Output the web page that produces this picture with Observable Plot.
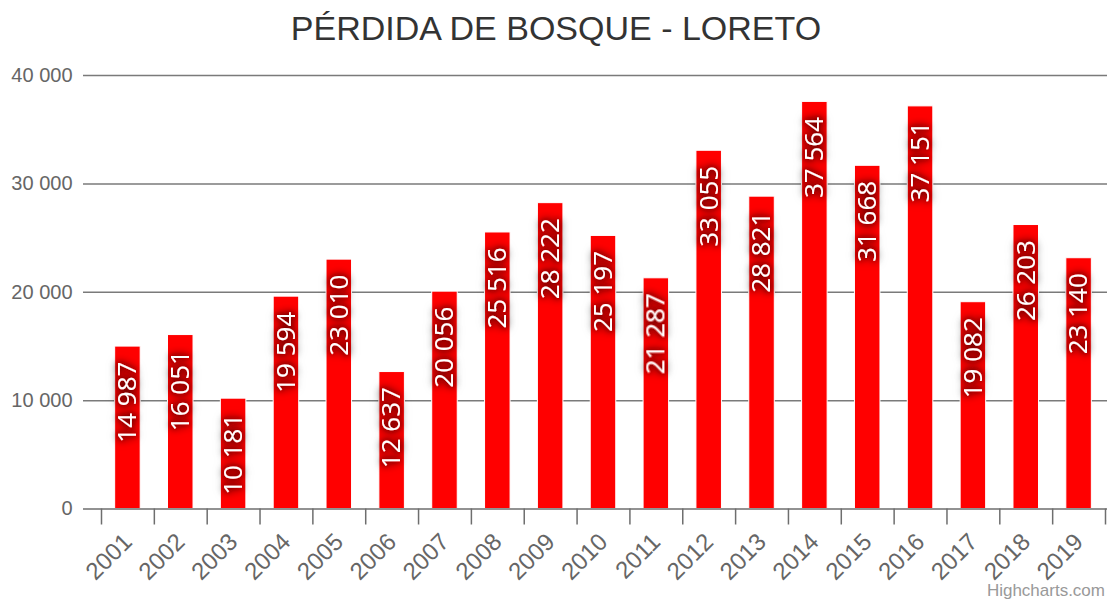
<!DOCTYPE html>
<html>
<head>
<meta charset="utf-8">
<script src="https://cdn.jsdelivr.net/npm/d3@7"></script>
<script src="https://cdn.jsdelivr.net/npm/@observablehq/plot@0.6"></script>
<style>
  html, body { margin: 0; padding: 0; background: #fff; }
  #wrap { position: relative; width: 1112px; height: 603px; overflow: hidden; }
  #title { height: 60px; line-height: 56px; text-align: center; font-family: "Liberation Sans", Arial, sans-serif; font-size: 34px; color: #333; }
  #credit { position: absolute; right: 7px; bottom: 2px; font-family: "Liberation Sans", Arial, sans-serif; font-size: 17px; color: #999; }
  #chart svg { display: block; }
</style>
</head>
<body>
<div id="wrap">
  <div id="title">PÉRDIDA DE BOSQUE - LORETO</div>
  <div id="chart"></div>
  <div id="credit">Highcharts.com</div>
</div>
<script>
const years = ["2001","2002","2003","2004","2005","2006","2007","2008","2009","2010","2011","2012","2013","2014","2015","2016","2017","2018","2019"];
const values = [14987, 16051, 10181, 19594, 23010, 12637, 20056, 25516, 28222, 25197, 21287, 33055, 28821, 37564, 31668, 37151, 19082, 26203, 23140];
const yTicks = [0, 10000, 20000, 30000, 40000];

const data = years.map((year, i) => ({year, value: values[i]}));
const fmt = d3.formatLocale({thousands: " ", grouping: [3], decimal: ","}).format(",");

const xRange = [101, 1105];
const step = (xRange[1] - xRange[0]) / years.length;

const plot = Plot.plot({
  width: 1112,
  height: 543,
  marginTop: 15,
  marginBottom: 94.5,
  marginLeft: 83,
  marginRight: 5,
  style: {fontFamily: "'Liberation Sans', Arial, sans-serif", fontSize: "20px", overflow: "visible", background: "white"},
  x: {domain: years, range: xRange, paddingInner: 0.517, paddingOuter: 0.2585, round: false, axis: null},
  y: {domain: [0, 40000], axis: null},
  marks: [
    Plot.ruleY(yTicks.filter(d => d > 0), {stroke: "#7a7a7a", strokeWidth: 1.5}),
    Plot.axisY({ticks: yTicks, tickSize: 0, tickPadding: 11, tickFormat: fmt, fontSize: 20, fill: "#666", label: null}),
    Plot.barY(data, {x: "year", y: "value", fill: "#ff0000", stroke: "white", strokeWidth: 1}),
    Plot.ruleY([0], {stroke: "#6e6e6e", strokeWidth: 1.5}),
    Plot.axisX({tickSize: 16, tickFormat: () => "", dx: -step / 2, stroke: "#6e6e6e", strokeWidth: 1.5, label: null}),
    Plot.axisX({ticks: [years[years.length - 1]], tickSize: 16, tickFormat: () => "", dx: step / 2, stroke: "#6e6e6e", strokeWidth: 1.5, label: null}),
    Plot.text(years, {x: d => d, frameAnchor: "bottom", rotate: -45, textAnchor: "end", lineAnchor: "middle", dx: 0, dy: 29, fontSize: 24, fill: "#666"}),
    Plot.text(data, {x: "year", y: "value", text: d => fmt(d.value), rotate: -90, textAnchor: "end", lineAnchor: "middle", dy: 15, fill: "white", fontSize: 26, fontFamily: "'Open Sans', sans-serif"})
  ]
});

// text shadow filter for the bar labels
const svg = d3.select(plot.tagName === "svg" ? plot : plot.querySelector("svg"));
const defs = svg.insert("defs", ":first-child");
const f = defs.append("filter").attr("id", "lblshadow").attr("x", "-50%").attr("y", "-50%").attr("width", "200%").attr("height", "200%");
f.append("feDropShadow").attr("dx", 0).attr("dy", 0).attr("stdDeviation", 5).attr("flood-color", "#000").attr("flood-opacity", 0.8);
f.append("feDropShadow").attr("dx", 0).attr("dy", 0).attr("stdDeviation", 2.5).attr("flood-color", "#300").attr("flood-opacity", 0.7);
svg.selectAll("g[aria-label='text']").filter(function() { return d3.select(this).attr("font-size") === "26"; }).attr("filter", "url(#lblshadow)");

document.getElementById("chart").appendChild(plot);
</script>
</body>
</html>
